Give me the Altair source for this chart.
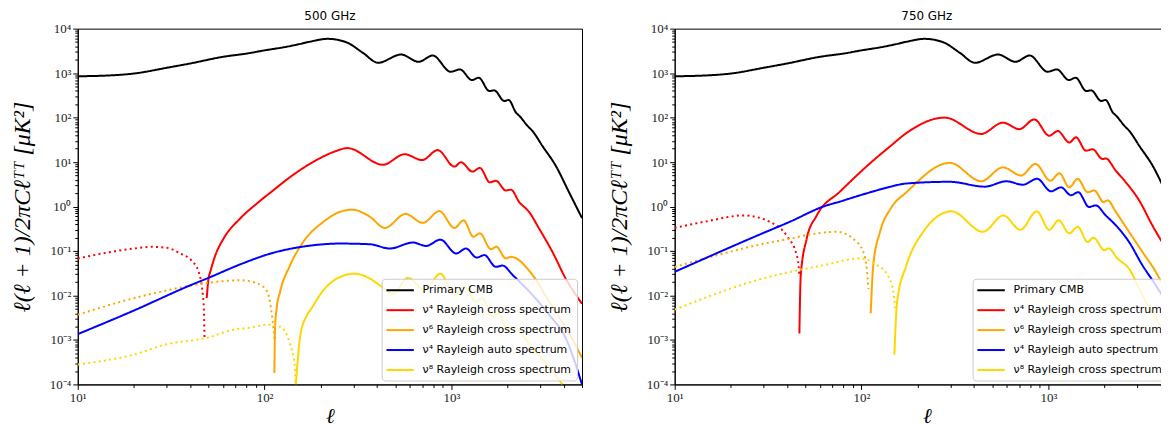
import altair as alt
import pandas as pd

# ---------------- categories / styling lists ----------------
SERIES = [
    "Primary CMB",
    "ν⁴ Rayleigh cross spectrum",
    "ν⁶ Rayleigh cross spectrum",
    "ν⁴ Rayleigh auto spectrum",
    "ν⁸ Rayleigh cross spectrum",
]
COLORS = ["#000000", "#ff0000", "#ffa500", "#0000ff", "#ffd700"]
PANELS = ["500 GHz", "750 GHz"]
LEGEND_X = [305, 299]

# ---------------- data ----------------
# Primary CMB (same in both panels)
cmb_ell = [10, 15, 20, 30, 40, 60, 80, 100, 126, 150, 175, 218, 274, 336, 405, 538, 667, 795,
           990, 1112, 1288, 1400, 1596, 1695, 1918, 2023, 2215, 2326, 2555, 2715, 3070, 3615, 4260, 5000]
cmb_dl = [850, 890, 980, 1320, 1650, 2330, 2750, 3250, 3800, 4400, 5100, 5900, 4940, 2860, 1710, 2620, 1800, 2490,
          1075, 1210, 697, 789, 396, 410, 237, 249, 130, 106, 65, 50, 23, 8.3, 2.1, 0.55]

# ---- 500 GHz ----
r500_neg_ell = [10, 15, 20, 25, 30, 35.4, 40.8, 44.4, 47.2, 47.7]
r500_neg_dl = [0.068, 0.095, 0.114, 0.124, 0.118, 0.088, 0.06, 0.034, 0.0062, 0.0011]
r500_pos_ell = [49, 50.1, 51.2, 54.5, 60.3, 74, 90.7, 111, 137, 194, 235, 278, 430, 561, 698, 845, 1038, 1125,
                1296, 1420, 1606, 1730, 1955, 2080, 2306, 2608, 2946, 3470, 4090, 5000]
r500_pos_dl = [0.0087, 0.024, 0.034, 0.08, 0.19, 0.54, 1.16, 2.3, 4.6, 11.7, 17, 20.6, 8.7, 15, 11.1, 18.6, 7.9, 9.9,
               6.1, 7.4, 3.5, 3.8, 2.3, 2.4, 1.26, 0.75, 0.32, 0.096, 0.024, 0.0065]

o500_neg_ell = [10, 20, 30, 40, 60, 74, 90.7, 103, 107, 110, 112, 113.3]
o500_neg_dl = [0.0037, 0.0087, 0.013, 0.0167, 0.021, 0.022, 0.019, 0.0125, 0.0068, 0.0031, 0.0015, 0.0009]
o500_pos_ell = [112.8, 113.8, 116, 121, 137, 161, 206, 253, 295, 366, 440, 568, 703, 863, 1038, 1163,
                1310, 1421, 1626, 1742, 1955, 2080, 2716, 3335, 4090, 5000]
o500_pos_dl = [0.00018, 0.0019, 0.0051, 0.012, 0.048, 0.16, 0.45, 0.76, 0.85, 0.59, 0.33, 0.68, 0.43, 0.79, 0.33, 0.49,
               0.21, 0.25, 0.11, 0.124, 0.068, 0.074, 0.029, 0.0073, 0.0019, 0.0004]

b500_ell = [10, 20, 40.1, 50.2, 74, 111, 168, 253, 366, 468, 622, 733, 873, 1060, 1197, 1364, 1500,
            1730, 1878, 2125, 2715, 3335, 4090, 5000]
b500_dl = [0.00135, 0.0046, 0.017, 0.025, 0.05, 0.091, 0.129, 0.147, 0.142, 0.114, 0.155, 0.13, 0.18, 0.088, 0.114, 0.071, 0.081,
           0.044, 0.047, 0.029, 0.0103, 0.0037, 0.0011, 0.0001]

y500_neg_ell = [10, 20, 30, 50, 68, 85, 103, 121, 137, 144.6, 146.5]
y500_neg_dl = [0.00028, 0.00047, 0.0008, 0.00114, 0.0017, 0.0019, 0.0022, 0.002, 0.0008, 0.00028, 0.0001]
y500_pos_ell = [147, 150, 155, 168, 178, 206, 253, 304, 366, 413, 487, 586, 718, 873, 1038, 1175, 1352, 1467, 1660, 1787,
                1995, 2125, 2715, 3335, 3925]
y500_pos_dl = [0.0001, 0.0003, 0.0012, 0.0035, 0.0051, 0.013, 0.026, 0.031, 0.024, 0.017, 0.011, 0.025, 0.0133, 0.031, 0.0103,
               0.016, 0.0073, 0.0087, 0.0034, 0.004, 0.0017, 0.0019, 0.00066, 0.00024, 0.0001]

# ---- 750 GHz ----
r750_neg_ell = [10, 15, 23.3, 32.4, 39.8, 45, 46, 46.4]
r750_neg_dl = [0.33, 0.47, 0.63, 0.45, 0.22, 0.08, 0.048, 0.03]
r750_pos_ell = [46.5, 47.3, 50.9, 57.6, 77, 116, 143, 174, 279, 437, 571, 700, 841, 1012, 1122, 1295, 1405,
                1590, 1725, 1950, 2030, 2296, 2600, 3060, 3600, 4370]
r750_pos_dl = [0.0014, 0.029, 0.19, 0.63, 2.2, 11, 23, 45, 100, 43, 77, 55, 91, 39, 50, 27.6, 36,
               18, 19.5, 11.7, 12, 6.4, 3.5, 1.38, 0.38, 0.096]

o750_neg_ell = [10, 18.3, 27.5, 41.6, 56, 73.8, 94.4, 104.7, 109]
o750_neg_dl = [0.044, 0.088, 0.135, 0.19, 0.245, 0.27, 0.16, 0.068, 0.014]
o750_pos_ell = [112, 115.6, 125.6, 143, 174, 297, 437, 571, 716, 853, 1026, 1146, 1295, 1435, 1623, 1762,
                1977, 2076, 2296, 2703, 3186, 3758, 4370]
o750_pos_dl = [0.004, 0.048, 0.27, 0.89, 2.1, 9.6, 3.7, 7.6, 5.0, 9.1, 3.8, 5.6, 2.7, 4.2, 2.1, 2.3,
               1.26, 1.38, 0.76, 0.27, 0.096, 0.034, 0.0102]

b750_ell = [10, 27.5, 41.6, 62.5, 77, 94.4, 116, 143, 174, 297, 457, 596, 731, 871, 1033, 1170, 1321, 1445, 1652,
            1792, 2030, 2296, 2703, 3186, 3758, 4370]
b750_dl = [0.034, 0.22, 0.46, 1.0, 1.3, 1.7, 2.2, 2.8, 3.3, 3.6, 2.8, 3.7, 3.1, 4.2, 2.2, 2.7, 1.8, 2.1, 0.98,
           1.06, 0.63, 0.38, 0.16, 0.048, 0.017, 0.0061]

y750_neg_ell = [10, 27.5, 62.5, 99, 121, 137, 148, 151]
y750_neg_dl = [0.0048, 0.022, 0.048, 0.068, 0.048, 0.03, 0.012, 0.0052]
y750_pos_ell = [150, 155, 174, 214, 303, 447, 575, 708, 867, 1012, 1135, 1295, 1435, 1623, 1742, 1995, 2100,
                2344, 2703, 3186, 3758, 4370]
y750_pos_dl = [0.00047, 0.0072, 0.048, 0.27, 0.78, 0.27, 0.63, 0.30, 0.78, 0.30, 0.49, 0.25, 0.35, 0.16, 0.20, 0.105, 0.115,
               0.068, 0.04, 0.0102, 0.0031, 0.0011]

# ---------------- tick positions / labels ----------------
X_TICKS = [10, 20, 30, 40, 50, 60, 70, 80, 90, 100, 200, 300, 400, 500, 600, 700, 800, 900,
           1000, 2000, 3000, 4000, 5000]
Y_TICKS = [1e-4, 2e-4, 3e-4, 4e-4, 5e-4, 6e-4, 7e-4, 8e-4, 9e-4,
           1e-3, 2e-3, 3e-3, 4e-3, 5e-3, 6e-3, 7e-3, 8e-3, 9e-3,
           1e-2, 2e-2, 3e-2, 4e-2, 5e-2, 6e-2, 7e-2, 8e-2, 9e-2,
           1e-1, 2e-1, 3e-1, 4e-1, 5e-1, 6e-1, 7e-1, 8e-1, 9e-1,
           1, 2, 3, 4, 5, 6, 7, 8, 9,
           10, 20, 30, 40, 50, 60, 70, 80, 90,
           100, 200, 300, 400, 500, 600, 700, 800, 900,
           1000, 2000, 3000, 4000, 5000, 6000, 7000, 8000, 9000, 10000]
EXPONENT_LABELS = ["⁻⁴", "⁻³", "⁻²", "⁻¹", "⁰", "¹", "²", "³", "⁴"]

# ---------------- build table ----------------
def frame(panel, series, style, ells, vals):
    return pd.DataFrame({"panel": panel, "series": series, "style": style, "ell": ells, "dl": vals})

parts = [
    frame(PANELS[0], SERIES[0], "solid", cmb_ell, cmb_dl),
    frame(PANELS[0], SERIES[1], "dotted", r500_neg_ell, r500_neg_dl),
    frame(PANELS[0], SERIES[1], "solid", r500_pos_ell, r500_pos_dl),
    frame(PANELS[0], SERIES[2], "dotted", o500_neg_ell, o500_neg_dl),
    frame(PANELS[0], SERIES[2], "solid", o500_pos_ell, o500_pos_dl),
    frame(PANELS[0], SERIES[3], "solid", b500_ell, b500_dl),
    frame(PANELS[0], SERIES[4], "dotted", y500_neg_ell, y500_neg_dl),
    frame(PANELS[0], SERIES[4], "solid", y500_pos_ell, y500_pos_dl),
    frame(PANELS[1], SERIES[0], "solid", cmb_ell, cmb_dl),
    frame(PANELS[1], SERIES[1], "dotted", r750_neg_ell, r750_neg_dl),
    frame(PANELS[1], SERIES[1], "solid", r750_pos_ell, r750_pos_dl),
    frame(PANELS[1], SERIES[2], "dotted", o750_neg_ell, o750_neg_dl),
    frame(PANELS[1], SERIES[2], "solid", o750_pos_ell, o750_pos_dl),
    frame(PANELS[1], SERIES[3], "solid", b750_ell, b750_dl),
    frame(PANELS[1], SERIES[4], "dotted", y750_neg_ell, y750_neg_dl),
    frame(PANELS[1], SERIES[4], "solid", y750_pos_ell, y750_pos_dl),
]
df = pd.concat(parts, ignore_index=True)

LOGV = "(log(datum.value)/LN10)"
IS_MAJOR = f"abs({LOGV} - round({LOGV})) < 0.001"
SUP = "[" + ",".join(f"'{s}'" for s in EXPONENT_LABELS) + "]"
LABEL_EXPR = f"{IS_MAJOR} ? '10' + {SUP}[round({LOGV}) + 4] : ''"
TICK_SIZE = {"condition": {"test": IS_MAJOR, "value": 5}, "value": 3}

SERIF = "Liberation Serif"


def panel(i):
    name = PANELS[i]
    sub = df[df["panel"] == name]
    return (
        alt.Chart(sub, title=alt.TitleParams(name, font="DejaVu Sans", fontSize=12,
                                             fontWeight="normal", color="#000", offset=0))
        .mark_line(strokeWidth=2, clip=True, interpolate="monotone")
        .encode(
            x=alt.X("ell:Q",
                    scale=alt.Scale(type="log", domain=[10, 5000], nice=False),
                    axis=alt.Axis(values=X_TICKS, labelExpr=LABEL_EXPR, tickSize=TICK_SIZE,
                                  title="ℓ", titleFont=SERIF, titleFontSize=21,
                                  titleFontStyle="italic", titleFontWeight="normal",
                                  titlePadding=1, labelPadding=2)),
            y=alt.Y("dl:Q",
                    scale=alt.Scale(type="log", domain=[1e-4, 1e4], nice=False),
                    axis=alt.Axis(values=Y_TICKS, labelExpr=LABEL_EXPR, tickSize=TICK_SIZE,
                                  title="ℓ(ℓ + 1)/2πCℓᵀᵀ   [μK²]", titleFont=SERIF,
                                  titleFontSize=24, titleFontStyle="italic",
                                  titleFontWeight="normal", titlePadding=15, labelPadding=2)),
            color=alt.Color("series:N",
                            scale=alt.Scale(domain=SERIES, range=COLORS),
                            legend=alt.Legend(title=None, orient="none", legendX=LEGEND_X[i], legendY=251,
                                              symbolType="M-2.5,0H2.5", symbolSize=121,
                                              symbolStrokeWidth=2, symbolOffset=7,
                                              labelOffset=16, labelFont="DejaVu Sans",
                                              labelFontSize=11, labelColor="#000",
                                              rowPadding=8, padding=5, labelLimit=400,
                                              fillColor="rgba(255,255,255,0.8)",
                                              strokeColor="#cccccc", cornerRadius=3)),
            strokeDash=alt.StrokeDash("style:N",
                                      scale=alt.Scale(domain=["solid", "dotted"],
                                                      range=[[1, 0], [2, 3.3]]),
                                      legend=None),
        )
        .properties(width=506, height=357)
    )


chart = (
    alt.hconcat(panel(0), panel(1), spacing=23)
    .resolve_scale(color="independent", strokeDash="independent")
    .resolve_legend(color="independent")
    .properties(padding={"left": 1, "top": 0, "right": -19, "bottom": 0}, background="white")
    .configure_view(stroke="#000", strokeWidth=1)
    .configure_axis(grid=False, domainColor="#000", domainWidth=1, tickColor="#000",
                    tickWidth=1, labelFont=SERIF, labelFontSize=13, labelColor="#222",
                    labelOverlap=False, labelFlush=False, titleColor="#000")
)

chart.save("out.html", embed_options={"renderer": "svg", "actions": False})
